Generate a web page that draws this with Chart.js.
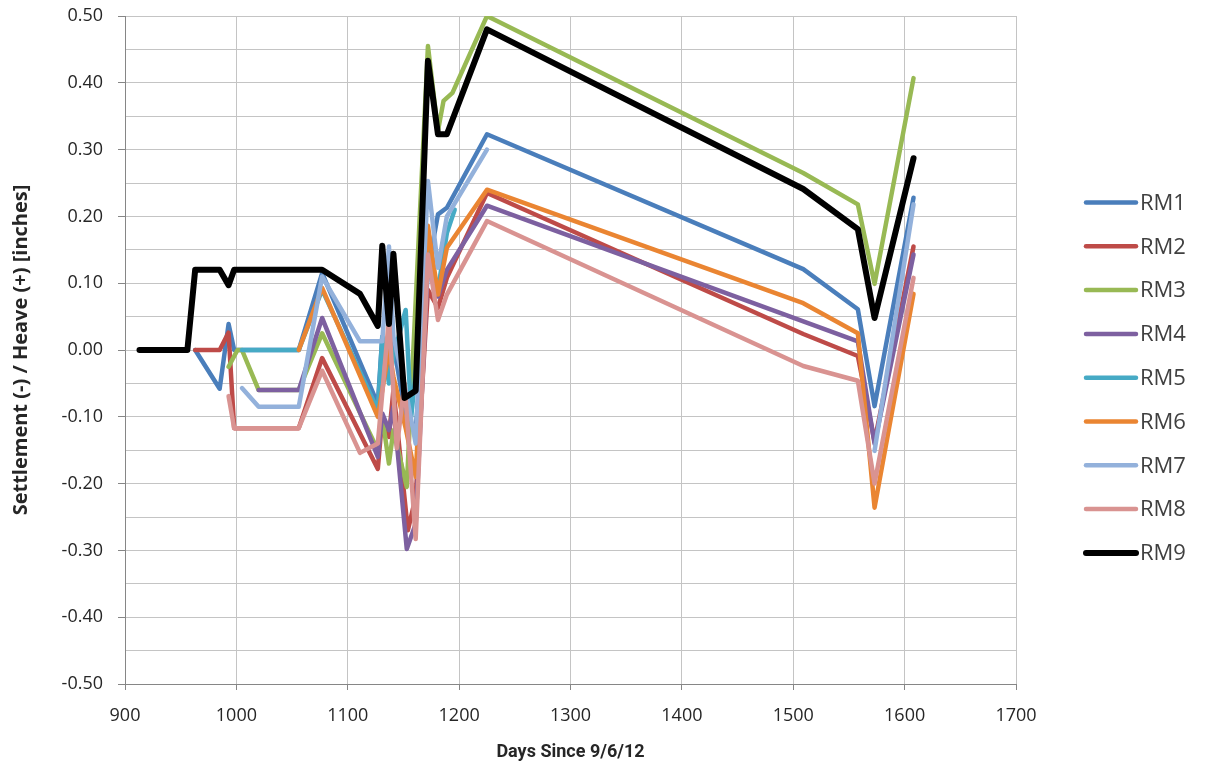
<!DOCTYPE html>
<html>
<head>
<meta charset="utf-8">
<script src="https://cdn.jsdelivr.net/npm/chart.js@4.4.1/dist/chart.umd.min.js"></script>
<style>
  body { margin: 0; background: #fff; }
  #wrap { width: 1208px; height: 774px; }
</style>
</head>
<body>
<div id="wrap"><canvas id="chart" width="1208" height="774"></canvas></div>
<script>
// survey days and readings (inches), one pair of arrays per monument
const rm1Days = [963, 985, 993, 998, 1056, 1077, 1127, 1131, 1137, 1141, 1152, 1161, 1172, 1181, 1189, 1225, 1509, 1558, 1573, 1608];
const rm1 = [0, -0.058, 0.039, 0, 0, 0.115, -0.081, 0.02, -0.04, 0.01, -0.1, -0.12, 0.12, 0.203, 0.213, 0.323, 0.121, 0.061, -0.084, 0.228];

const rm2Days = [963, 985, 993, 998, 1056, 1077, 1127, 1131, 1137, 1141, 1154, 1161, 1172, 1181, 1189, 1225, 1509, 1558, 1573, 1608];
const rm2 = [0, 0, 0.026, -0.117, -0.117, -0.012, -0.178, -0.1, -0.13, -0.06, -0.27, -0.22, 0.09, 0.063, 0.108, 0.235, 0.024, -0.009, -0.137, 0.155];

const rm3Days = [993, 1001, 1005, 1020, 1056, 1077, 1127, 1131, 1137, 1141, 1153, 1172, 1181, 1186, 1194, 1225, 1509, 1558, 1573, 1608];
const rm3 = [-0.025, 0, 0, -0.06, -0.06, 0.025, -0.15, -0.1, -0.17, -0.12, -0.205, 0.455, 0.328, 0.373, 0.385, 0.5, 0.265, 0.218, 0.099, 0.407];

const rm4Days = [1020, 1056, 1077, 1127, 1131, 1137, 1141, 1153, 1161, 1172, 1181, 1189, 1225, 1509, 1558, 1573, 1608];
const rm4 = [-0.06, -0.06, 0.048, -0.16, -0.095, -0.12, -0.085, -0.298, -0.26, 0.13, 0.08, 0.12, 0.216, 0.043, 0.013, -0.14, 0.143];

const rm5Days = [1005, 1056, 1077, 1127, 1131, 1137, 1141, 1152, 1157, 1172, 1181, 1189, 1196];
const rm5 = [0, 0, 0.09, -0.09, 0.02, -0.05, -0.01, 0.06, -0.1, 0.15, 0.09, 0.175, 0.21];

const rm6Days = [1056, 1077, 1127, 1131, 1137, 1141, 1152, 1161, 1172, 1181, 1189, 1225, 1509, 1558, 1573, 1608];
const rm6 = [0, 0.093, -0.1, -0.06, 0, -0.04, -0.117, -0.19, 0.186, 0.083, 0.153, 0.24, 0.07, 0.025, -0.236, 0.084];

const rm7Days = [1005, 1020, 1056, 1077, 1111, 1131, 1137, 1141, 1152, 1161, 1172, 1181, 1189, 1225, 1509, 1573, 1608];
const rm7 = [-0.057, -0.085, -0.085, 0.11, 0.013, 0.013, 0.155, 0.02, -0.06, -0.14, 0.253, 0.123, 0.2, 0.3, null, -0.151, 0.218];

const rm8Days = [993, 998, 1056, 1077, 1111, 1127, 1137, 1144, 1151, 1161, 1172, 1181, 1189, 1225, 1509, 1558, 1573, 1608];
const rm8 = [-0.069, -0.117, -0.117, -0.031, -0.154, -0.14, 0.048, -0.147, -0.05, -0.283, 0.143, 0.045, 0.083, 0.193, -0.024, -0.046, -0.2, 0.108];

const rm9Days = [913, 956, 963, 985, 993, 998, 1077, 1111, 1127, 1131, 1137, 1141, 1151, 1161, 1172, 1181, 1189, 1225, 1509, 1558, 1573, 1608];
const rm9 = [0, 0, 0.12, 0.12, 0.097, 0.12, 0.12, 0.084, 0.036, 0.156, 0.039, 0.144, -0.072, -0.061, 0.433, 0.323, 0.323, 0.48, 0.241, 0.181, 0.048, 0.287];

const seriesNames = ['RM1', 'RM2', 'RM3', 'RM4', 'RM5', 'RM6', 'RM7', 'RM8', 'RM9'];
const seriesDays = [rm1Days, rm2Days, rm3Days, rm4Days, rm5Days, rm6Days, rm7Days, rm8Days, rm9Days];
const seriesValues = [rm1, rm2, rm3, rm4, rm5, rm6, rm7, rm8, rm9];
const seriesColors = ['#4A7EBB', '#BE4B48', '#98B954', '#7D60A0', '#46AAC5', '#EA8532', '#93B1DB', '#D99391', '#000000'];

const textColor = '#262626';

const datasets = seriesNames.map((name, i) => ({
  label: name,
  data: seriesDays[i].map((d, k) => ({ x: d, y: seriesValues[i][k] })),
  borderColor: seriesColors[i],
  backgroundColor: seriesColors[i],
  borderWidth: i === 8 ? 6 : 4.5,
  showLine: true,
  pointRadius: 0,
  tension: 0,
  spanGaps: false,
  borderCapStyle: 'round',
  borderJoinStyle: 'round',
  order: seriesNames.length - i, // later series on top, like the original
}));

// legend drawn at the side, lines + labels
const sideLegend = {
  id: 'sideLegend',
  afterDraw(chart) {
    const { ctx } = chart;
    chart.data.datasets.forEach((ds, i) => {
      const y = 202.5 + i * 43.8;
      ctx.save();
      ctx.strokeStyle = ds.borderColor;
      ctx.lineWidth = ds.borderWidth;
      ctx.lineCap = 'round';
      ctx.beginPath();
      ctx.moveTo(1086, y);
      ctx.lineTo(1136, y);
      ctx.stroke();
      ctx.fillStyle = '#404040';
      ctx.font = '22px "Open Sans"';
      ctx.textBaseline = 'middle';
      ctx.fillText(ds.label, 1140, y + 1);
      ctx.restore();
    });
  },
};

const isMajor = (v) => Math.abs(Math.round(v * 100) % 10) === 0;

new Chart(document.getElementById('chart'), {
  type: 'scatter',
  data: { datasets },
  options: {
    responsive: false,
    animation: false,
    layout: { padding: { top: 16, right: 192, bottom: 0, left: 0 } },
    plugins: {
      legend: { display: false },
      tooltip: { enabled: false },
    },
    scales: {
      x: {
        type: 'linear',
        min: 900,
        max: 1700,
        afterFit(scale) { scale.height = 90; },
        ticks: {
          stepSize: 100,
          color: textColor,
          padding: 15,
          font: { family: 'Open Sans', size: 18 },
          callback: (v) => String(v),
        },
        grid: { color: '#c4c4c4', lineWidth: 1, tickLength: 6, tickColor: '#868686' },
        border: { color: '#868686', width: 1 },
        title: {
          display: true,
          text: 'Days Since 9/6/12',
          color: textColor,
          padding: { top: 0, bottom: 11 },
          font: { family: 'Roboto', size: 18, weight: 'bold' },
        },
      },
      y: {
        min: -0.5,
        max: 0.5,
        afterFit(scale) {
          scale.width = 125;
          // tick padding would otherwise push the plot top down
          scale.paddingTop = 0;
          scale.paddingBottom = 0;
        },
        ticks: {
          stepSize: 0.05,
          color: textColor,
          padding: 15,
          font: { family: 'Open Sans', size: 18 },
          callback: (v) => (isMajor(v) ? (Math.abs(v) < 1e-9 ? '0.00' : v.toFixed(2)) : ''),
        },
        grid: {
          color: '#c4c4c4',
          lineWidth: 1,
          tickLength: 7,
          tickColor: (ctx) => (ctx.tick && isMajor(ctx.tick.value) ? '#868686' : 'rgba(0,0,0,0)'),
        },
        border: { color: '#868686', width: 1 },
        title: {
          display: true,
          text: 'Settlement (-) / Heave (+) [inches]',
          color: textColor,
          padding: { top: 9, bottom: 0 },
          font: { family: 'Open Sans', size: 20, weight: 'bold' },
        },
      },
    },
  },
  plugins: [sideLegend],
});
</script>
</body>
</html>
